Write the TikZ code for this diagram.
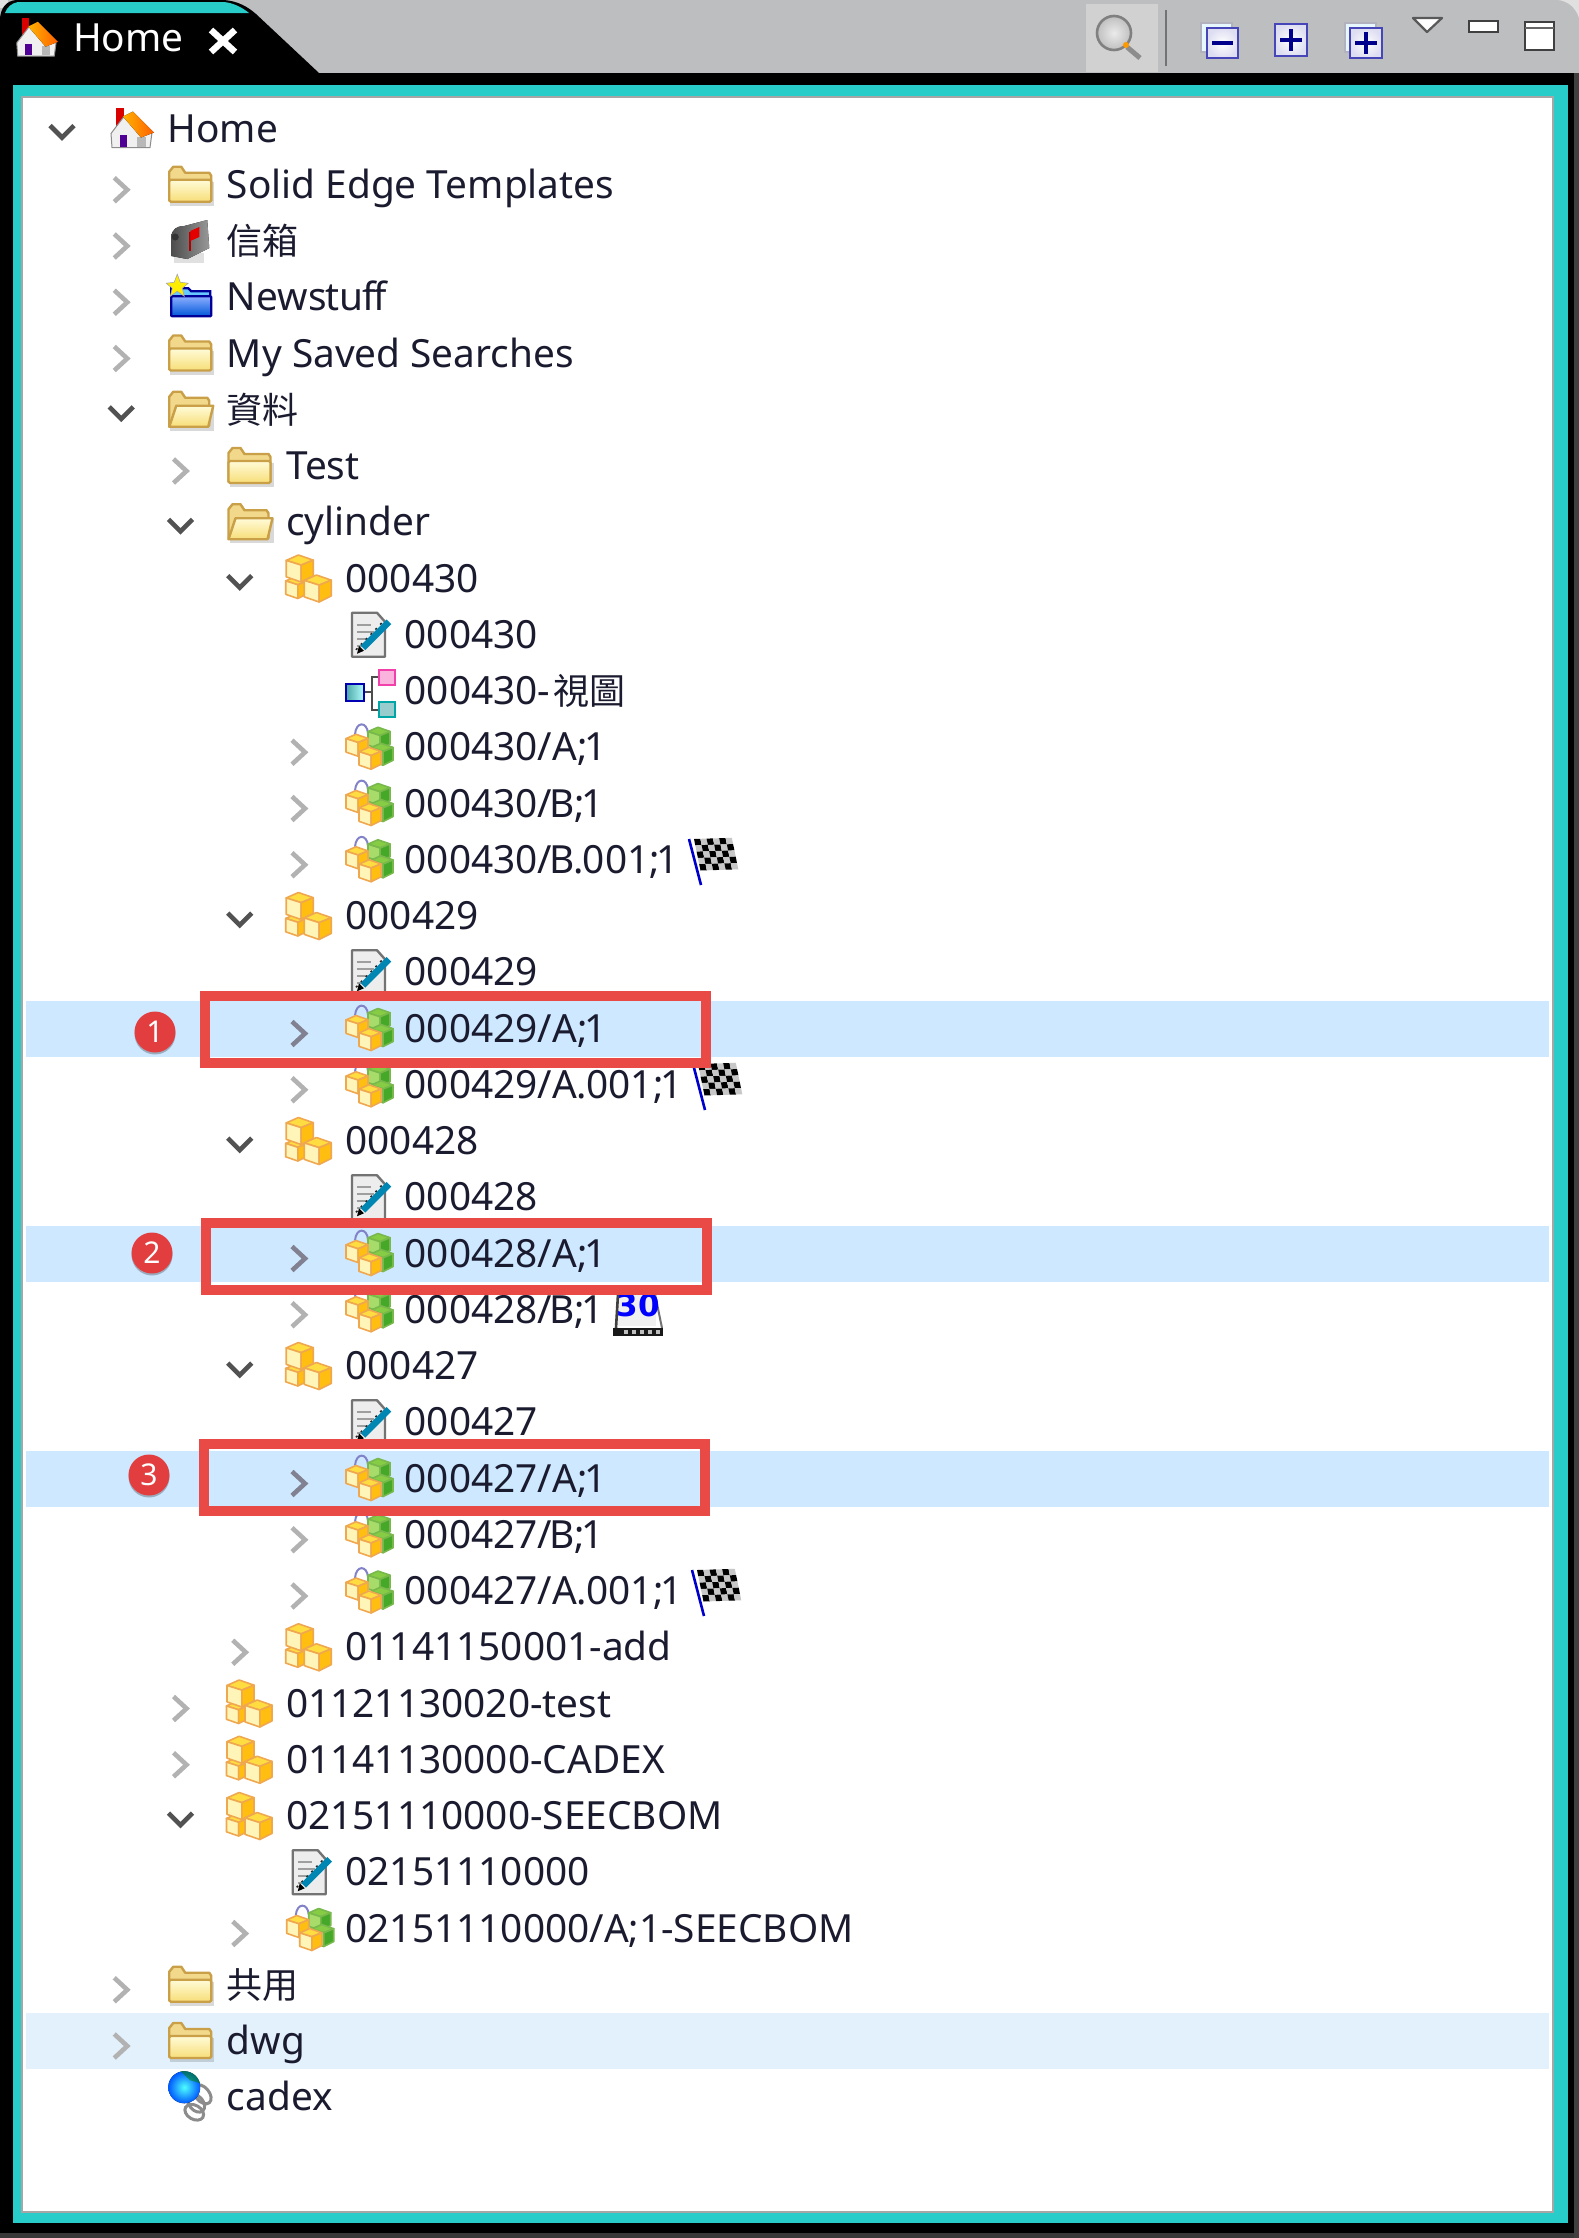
\documentclass[tikz,border=0pt]{standalone}
\usepackage{fontspec}
\setmainfont{Noto Sans}
\newfontfamily\cjk{Noto Sans CJK TC}
\newfontfamily\calf{DejaVu Sans Bold}
\usetikzlibrary{calc}
\definecolor{teal1}{HTML}{28CCC8}
\definecolor{barg}{HTML}{BDBEC0}
\definecolor{sel}{HTML}{CDE8FF}
\definecolor{hov}{HTML}{E3F1FD}
\definecolor{redb}{HTML}{E94A45}
\definecolor{redc}{HTML}{E23E3F}
\definecolor{txt}{HTML}{1B1B30}
\definecolor{fedge}{HTML}{C9A048}
\definecolor{ftop}{HTML}{FFFBD8}
\definecolor{fbot}{HTML}{F7DE78}
\definecolor{fback}{HTML}{F2D88A}
\tikzset{
  rowtext/.style={inner sep=0pt,anchor=base west,text=txt,font=\fontsize{38.8}{40}\selectfont},
  chevron/.style={line width=4.6pt,line join=miter,draw=#1},
  redbox/.style={draw=redb,line width=10pt},
  badge/.style={circle,fill=redc,text=white,inner sep=0pt,minimum size=41pt,font=\fontsize{30}{32}\selectfont},
  tbtn/.style={draw=#1,line width=2.4pt,inner color=white,outer color=#1!18!white}
}
% chevrons
\newcommand\chevC{\draw[chevron=black!30] (-7,-7)--(6,5)--(-7,17);}
\newcommand\chevS{\draw[chevron=black!30!blue!10!gray!90] (-7,-7)--(6,5)--(-7,17);}
\newcommand\chevV{\draw[chevron=black!68] (-12,-3)--(0,9)--(12,-3);}
% icons
\newcommand\icoFolder{%
  \fill[black,opacity=.15] (-20,-3) rectangle (24,21);
  \draw[fedge,line width=2.4pt,line join=round,fill=fback] (-21,16)--(-21,-13)--(-17,-18)--(-9,-18)--(-5,-12)--(19,-12)--(21,-9)--(21,16)--cycle;
  \draw[fedge,line width=2.4pt,rounded corners=1.5pt,top color=ftop,bottom color=fbot] (-21,-5) rectangle (21,17);}
\newcommand\icoOpen{%
  \fill[black,opacity=.15] (-20,-3) rectangle (24,21);
  \draw[fedge,line width=2.4pt,line join=round,fill=fback] (-21,16)--(-21,-13)--(-17,-18)--(-9,-18)--(-5,-12)--(17,-12)--(19,-9)--(19,16)--cycle;
  \draw[fedge,line width=2.4pt,line join=round,top color=ftop,bottom color=fbot] (-14,-4)--(23,-4)--(18,17)--(-21,17)--cycle;}
\newcommand\cubeAt[7]{% x y s left right top edge
  \begin{scope}[shift={(#1,#2)},line width=1.6pt,draw=#7,line join=round]
    \draw[fill=#6] (-.1*#3,-#3)--(#3,-.62*#3)--(.1*#3,-.25*#3)--(-#3,-.6*#3)--cycle;
    \draw[fill=#4] (-#3,-.6*#3)--(.1*#3,-.25*#3)--(.1*#3,#3)--(-#3,.62*#3)--cycle;
    \draw[fill=#5] (#3,-.62*#3)--(.1*#3,-.25*#3)--(.1*#3,#3)--(#3,.55*#3)--cycle;
  \end{scope}}
\definecolor{cyl}{HTML}{FFF5B8}\definecolor{cyr}{HTML}{FFBE10}\definecolor{cyt}{HTML}{FFDD40}\definecolor{cye}{HTML}{F0A850}
\definecolor{cgl}{HTML}{A8DC6A}\definecolor{cgr}{HTML}{46A828}\definecolor{cgt}{HTML}{86CC44}\definecolor{cge}{HTML}{78B84C}
\newcommand\icoCube{%
  \cubeAt{-12}{9}{11}{cyl}{cyr}{cyt}{cye}
  \cubeAt{-9}{-10}{13.5}{cyl}{cyr}{cyt}{cye}
  \cubeAt{9}{10}{13.5}{cyl}{cyr}{cyt}{cye}}
\newcommand\icoItem{%
  \draw[blue!40!gray!70,line width=2pt] (-13,-13) .. controls (-12,-26) and (-1,-26) .. (0,-14);
  \cubeAt{11}{-9}{11}{cgl}{cgr}{cgt}{cge}
  \cubeAt{14}{7}{11}{cgl}{cgr}{cgt}{cge}
  \cubeAt{-11}{-2}{11}{cyl}{cyr}{cyt}{cye}
  \cubeAt{2}{11}{11}{cyl}{cyr}{cyt}{cye}}
\newcommand\icoDoc{%
  \draw[black!55,line width=2.4pt,fill=black!7,line join=round] (-16,-22)--(9,-22)--(17,-13)--(17,22)--(-16,22)--cycle;
  \draw[black!38,line width=1.6pt] (-11,-10)--(3,-10) (-11,-3)--(6,-3) (-11,4)--(1,4) (-11,11)--(-3,11);
  \draw[black!85,line width=1.6pt,dash pattern=on 2pt off 5pt] (-12,15)--(15,-13);
  \draw[blue!25!cyan!70!black,line width=6.5pt] (-5,13)--(21,-13);
  \fill[black] (-11,19)--(-9,11)--(-4,16)--cycle;}
\newcommand\icoView{%
  \draw[black!70,line width=2.2pt] (-4,1)--(4,1) (11,-14)--(4,-14)--(4,19)--(11,19);
  \draw[blue!70!black,line width=2.2pt,left color=cyan!50!black!70,right color=cyan!30!white] (-22,-7) rectangle (-4,10);
  \draw[magenta!75!white,line width=2.2pt,fill=magenta!30!white] (11,-21) rectangle (27,-6);
  \draw[teal!70!cyan,line width=2.2pt,fill=teal!40!white] (11,11) rectangle (27,26);}
\newcommand\icoHome{%
  \fill[red!85!black] (-15,-21) rectangle (-7,-3);
  \draw[black!45,line width=1pt,fill=black!6] (-20,5)--(-7,-12)--(8,4)--(21,4)--(19,19)--(-19,19)--cycle;
  \fill[blue!65!red!90!black] (-11,6) rectangle (-4,18);
  \fill[black!28] (6,8) rectangle (15,18);
  \fill[left color=orange!60!yellow,right color=orange!75!red] (-8,-12)--(2,-17)--(23,4)--(10,9)--cycle;}
\newcommand\icoMail{%
  \fill[black!12] (-16,12) rectangle (14,22);
  \fill[left color=black!70,right color=black!40] (-19,-3) .. controls (-19,-12) and (-13,-15) .. (-6,-15)--(17,-21)--(19,7)--(-3,18)--(-19,15)--cycle;
  \fill[black!80] (-15,-4) circle (3.5pt);
  \draw[red!70!black,line width=2pt] (0,-9)--(0,10);
  \fill[red!90!black] (0,-10)--(9,-14)--(9,-4)--(0,0)--cycle;}
\newcommand\icoNew{%
  \draw[blue!60!black,line width=2.4pt,fill=blue!35!cyan!60!white] (-19,-9)--(-2,-9)--(1,-6)--(20,-6)--(20,18)--(-19,18)--cycle;
  \draw[blue!60!black,line width=2.4pt,rounded corners=1pt,top color=cyan!30!blue!45!white,bottom color=blue!60!cyan!85!black] (-19,-1) rectangle (21,19);
  \fill[yellow!95!orange,draw=black!35,line width=.6pt] (-13,-23)--(-10,-15)--(-2,-14)--(-8,-9)--(-6,-1)--(-13,-6)--(-20,-1)--(-18,-9)--(-24,-14)--(-16,-15)--cycle;}
\newcommand\icoGlobe{%
  \draw[black!45,line width=3pt,rotate around={-50:(12,-3)}] (12,-3) ellipse (11pt and 7pt);
  \draw[black!45,line width=3pt,rotate around={-50:(6,6)}] (6,6) ellipse (10pt and 7pt);
  \draw[black!45,line width=3pt,rotate around={-30:(4,15)}] (4,15) ellipse (10pt and 7pt);
  \fill[inner color=cyan!70!white,outer color=blue!65!cyan] (-6,-10) circle (16pt);
  \fill[green!50!black,opacity=.55] (-10,-26)..controls (0,-27) and (7,-23) ..(10,-14)--(0,-17)--cycle;}
\newcommand\icoFlag{%
  \begin{scope}[shift={(0,-22)}]
  \foreach \i in {0,...,5}{\foreach \j in {0,...,4}{
    \pgfmathtruncatemacro\kk{mod(\i+\j,2)}
    \ifnum\kk=0\def\cc{black}\else\def\cc{black!22}\fi
    \fill[\cc] ({5+\i*6.3+\j*1.3},{1+\j*6.3-\i*.2}) -- ++(6.3,-.2) -- ++(1.3,6.3) -- ++(-6.3,.2) -- cycle;
  }}
  \draw[blue!80!black,line width=2.6pt] (0,1)--(12,47);
  \end{scope}}
\newcommand\icoCal{%
  \fill[black!6] (-20,-16) rectangle (18,16);
  \draw[black!75,line width=2.6pt] (-20,-16)--(-22,18);
  \draw[black!55,line width=2pt] (17,-16)--(24,18);
  \fill[black!90] (-25,18) rectangle (25,26);
  \foreach \q in {-12,-4,4,12,20}{\fill[white!75!black] (\q-2,20) rectangle (\q+2,24);}
  \node[inner sep=0pt,text=blue!100,font=\calf\fontsize{31}{31}\selectfont] (cal30) at (0,-5) {30};}
% a tree row: number, level, chevron, icon, text
\newcommand\TR[5]{%
  \pgfmathsetmacro\RowY{128.5+56.25*#1}%
  \pgfmathsetmacro\RowT{167.5+59.25*#2}%
  \pgfmathsetmacro\RowI{131+59.25*#2}%
  \pgfmathsetmacro\RowC{62+59.25*#2}%
  \begin{scope}[shift={(\RowC,\RowY)}]#3\end{scope}%
  \begin{scope}[shift={(\RowI,\RowY)}]#4\end{scope}%
  \node[rowtext] (t#1) at (\RowT,\RowY+13.5) {#5};}
\begin{document}
\begin{tikzpicture}[x=1pt,y=-1pt]
\useasboundingbox (0,0) rectangle (1579,2238);
% window
\fill[barg] (0,0) rectangle (1579,73);
\fill[black!12] (1558,0) .. controls (1568,1) and (1576,8) .. (1579,18) -- (1579,0) -- cycle;
\fill[black] (0,73) rectangle (1579,2238);
\fill[black!78] (0,2233) rectangle (1579,2238);
\fill[black!75] (1574,73) rectangle (1579,2238);
\fill[white!88!black] (0,0) rectangle (8,8);
\fill[black] (0,73) -- (0,18) .. controls (1,8) and (6,1) .. (16,0) -- (224,0) .. controls (238,1) and (248,7) .. (256,14) -- (319,73) -- cycle;
\fill[teal1] (5,13) .. controls (7,7) and (12,3) .. (18,2) -- (224,2) .. controls (234,3) and (243,8) .. (249,13) -- cycle;
\fill[teal1] (13,85) rectangle (1568,2223);
\fill[white,draw=black!35,line width=1.6pt] (22,97) rectangle (1553,2212);
% tab
\begin{scope}[shift={(36,38)},scale=.96]\icoHome\end{scope}
\node[inner sep=0pt,anchor=base west,text=white,font=\fontsize{38.8}{40}\selectfont] (tabhome) at (73,51) {Home};
\draw[white,line width=6.5pt] (211,30)--(235,52) (235,30)--(211,52);
% toolbar
\fill[black!18] (1086,4) rectangle (1158,72);
\draw[black!50,line width=2.6pt,inner color=black!8,outer color=black!25] (1114,33) circle (17pt);
\draw[black!45,line width=5pt] (1127,47)--(1140,58);
\fill[orange!80!yellow] (1126,45) circle (3pt);
\draw[black!55,line width=2.4pt] (1166,10)--(1166,66);
\draw[blue!15!black!30,line width=2pt,fill=cyan!10!white] (1201,23) rectangle (1232,52);
\draw[tbtn=blue!45!gray] (1207,28) rectangle (1238,58);
\draw[blue!55!black,line width=3.4pt] (1212,43)--(1233,43);
\draw[tbtn=blue!45!gray] (1275,24) rectangle (1307,56);
\draw[blue!55!black,line width=3.4pt] (1280,40)--(1302,40) (1291,29)--(1291,51);
\draw[blue!15!black!30,line width=2pt,fill=cyan!10!white] (1345,23) rectangle (1376,52);
\draw[tbtn=blue!45!gray] (1350,28) rectangle (1382,58);
\draw[blue!55!black,line width=3.4pt] (1355,43)--(1377,43) (1366,32)--(1366,54);
\draw[black!65,line width=2.2pt,fill=white,line join=round] (1413,18)--(1442,18)--(1427,32)--cycle;
\draw[black!75,line width=2.6pt,fill=white] (1469,21) rectangle (1498,32);
\draw[black!75,line width=2.6pt,fill=white] (1525,22) rectangle (1554,50);
\draw[black!60,line width=1.6pt] (1525,28)--(1554,28);
% hover rows
\fill[sel] (26,1001) rectangle (1549,1057);
\fill[sel] (26,1226) rectangle (1549,1282);
\fill[sel] (26,1451) rectangle (1549,1507);
\fill[hov] (26,2013) rectangle (1549,2069);
% tree
\TR{0}{0}{\chevV}{\icoHome}{Home}
\TR{1}{1}{\chevC}{\icoFolder}{Solid Edge Templates}
\TR{2}{1}{\chevC}{\icoMail}{\cjk\fontsize{36}{40}\selectfont 信箱}
\TR{3}{1}{\chevC}{\icoNew}{News\kern-1pt tu\kern-1pt f\kern-2pt f}
\TR{4}{1}{\chevC}{\icoFolder}{My Saved Searches}
\TR{5}{1}{\chevV}{\icoOpen}{\cjk\fontsize{36}{40}\selectfont 資料}
\TR{6}{2}{\chevC}{\icoFolder}{Test}
\TR{7}{2}{\chevV}{\icoOpen}{cylinder}
\TR{8}{3}{\chevV}{\icoCube}{000430}
\TR{9}{4}{}{\icoDoc}{000430}
\TR{10}{4}{}{\icoView}{000430-\hspace{3pt}{\cjk\fontsize{36}{40}\selectfont 視圖}}
\TR{11}{4}{\chevC}{\icoItem}{000430/A;\kern-3pt 1}
\TR{12}{4}{\chevC}{\icoItem}{000430/\kern-3pt B;\kern-3pt 1}
\TR{13}{4}{\chevC}{\icoItem}{000430/\kern-3pt B\kern-1pt.\kern-1pt 001;\kern-3pt 1}
\TR{14}{3}{\chevV}{\icoCube}{000429}
\TR{15}{4}{}{\icoDoc}{000429}
\TR{16}{4}{\chevS}{\icoItem}{000429/A;\kern-3pt 1}
\TR{17}{4}{\chevC}{\icoItem}{000429/A\kern-1pt.001;\kern-3pt 1}
\TR{18}{3}{\chevV}{\icoCube}{000428}
\TR{19}{4}{}{\icoDoc}{000428}
\TR{20}{4}{\chevS}{\icoItem}{000428/A;\kern-3pt 1}
\TR{21}{4}{\chevC}{\icoItem}{000428/\kern-3pt B;\kern-3pt 1}
\TR{22}{3}{\chevV}{\icoCube}{000427}
\TR{23}{4}{}{\icoDoc}{000427}
\TR{24}{4}{\chevS}{\icoItem}{000427/A;\kern-3pt 1}
\TR{25}{4}{\chevC}{\icoItem}{000427/\kern-3pt B;\kern-3pt 1}
\TR{26}{4}{\chevC}{\icoItem}{000427/A\kern-1pt.001;\kern-3pt 1}
\TR{27}{3}{\chevC}{\icoCube}{01141150001-add}
\TR{28}{2}{\chevC}{\icoCube}{01121130020-test}
\TR{29}{2}{\chevC}{\icoCube}{01141130000-CADEX}
\TR{30}{2}{\chevV}{\icoCube}{02151110000-SEECBOM}
\TR{31}{3}{}{\icoDoc}{02151110000}
\TR{32}{3}{\chevC}{\icoItem}{02151110000/A;1-SEECBOM}
\TR{33}{1}{\chevC}{\icoFolder}{\cjk\fontsize{36}{40}\selectfont 共用}
\TR{34}{1}{\chevC}{\icoFolder}{dwg}
\TR{35}{1}{}{\icoGlobe}{cadex}
% status overlays
\begin{scope}[shift={(689,860)}]\icoFlag\end{scope}
\begin{scope}[shift={(693,1085)}]\icoFlag\end{scope}
\begin{scope}[shift={(692,1591)}]\icoFlag\end{scope}
\begin{scope}[shift={(638,1310)}]\icoCal\end{scope}
% red call-outs
\draw[redbox] (205,996) rectangle (706,1063);
\draw[redbox] (206,1223) rectangle (707,1290);
\draw[redbox] (204,1444) rectangle (705,1511);
\foreach \bx/\by/\bn in {155/1032/1,152/1253/2,149/1475/3}{
  \fill[black,opacity=.25] (\bx,\by+2) circle (20.5pt);
  \node[badge] (badge\bn) at (\bx,\by) {\bn};}
\end{tikzpicture}
\end{document}
